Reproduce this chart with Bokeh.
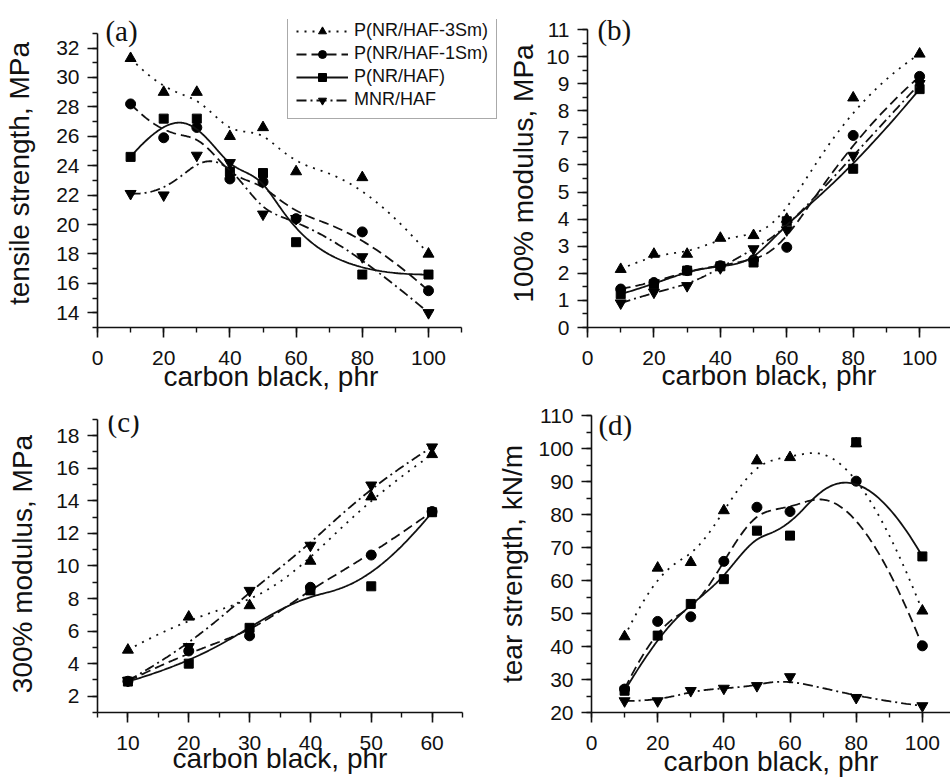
import numpy as np
from bokeh.plotting import figure
from bokeh.models import Range1d, SingleIntervalTicker, Legend, LegendItem, Label, Title
from bokeh.layouts import column, row
from bokeh.embed import file_html
from bokeh.resources import INLINE

# ---------------- data ----------------
cb_full = [10, 20, 30, 40, 50, 60, 80, 100]
cb_short = [10, 20, 30, 40, 50, 60]

series_names = ["P(NR/HAF-3Sm)", "P(NR/HAF-1Sm)", "P(NR/HAF)", "MNR/HAF"]

tensile_3sm = [31.3, 29.0, 29.0, 26.0, 26.6, 23.6, 23.2, 18.0]
tensile_1sm = [28.2, 25.9, 26.6, 23.1, 22.9, 20.4, 19.5, 15.5]
tensile_haf = [24.6, 27.2, 27.2, 23.6, 23.5, 18.8, 16.6, 16.6]
tensile_mnr = [22.1, 22.0, 24.7, 24.2, 20.7, 20.4, 17.8, 14.0]

mod100_3sm = [2.15, 2.71, 2.71, 3.30, 3.40, 4.0, 8.48, 10.1]
mod100_1sm = [1.42, 1.66, 2.1, 2.28, 2.5, 2.96, 7.09, 9.27]
mod100_haf = [1.23, 1.6, 2.1, 2.26, 2.4, 3.92, 5.86, 8.8]
mod100_mnr = [0.9, 1.3, 1.54, 2.2, 2.9, 3.6, 6.35, 9.0]

mod300_3sm = [4.84, 6.87, 7.57, 10.3, 14.25, 16.85]
mod300_1sm = [2.92, 4.78, 5.71, 8.69, 10.67, 13.34]
mod300_haf = [2.9, 4.0, 6.2, 8.5, 8.75, 13.3]
mod300_mnr = [2.96, 5.04, 8.49, 11.26, 14.96, 17.3]

tear_3sm = [43.0, 63.8, 65.5, 81.2, 96.3, 97.3, 101.5, 50.8]
tear_1sm = [27.1, 47.6, 49.0, 65.8, 82.2, 80.9, 90.1, 40.2]
tear_haf = [26.6, 43.3, 52.9, 60.4, 75.1, 73.6, 101.9, 67.3]
tear_mnr = [23.5, 23.5, 26.6, 27.3, 28.1, 30.8, 24.5, 22.0]

# ---------------- styles ----------------
FONT = "Liberation Sans"
SERIF = "Liberation Serif"
dashes = ["2 6", "10 5", "solid", "10 4 2 4"]
markers = ["triangle", "circle", "square", "inverted_triangle"]
msizes = [11, 10, 9, 11]
INK = "#111111"


def bspline(xs, ys, n=300, k=3):
    """Clamped uniform cubic B-spline drawn with the data points as control points."""
    P = np.column_stack([np.asarray(xs, float), np.asarray(ys, float)])
    m = len(P)
    knots = np.concatenate([[0.0] * k, np.arange(m - k + 1, dtype=float), [float(m - k)] * k])
    ts = np.linspace(0, m - k, n)
    out = []
    for t in ts:
        l = k
        while l < m - 1 and not (knots[l] <= t < knots[l + 1]):
            l += 1
        d = [P[j + l - k].copy() for j in range(k + 1)]
        for r in range(1, k + 1):
            for j in range(k, r - 1, -1):
                den = knots[j + 1 + l - r] - knots[j + l - k]
                a = 0.0 if den == 0 else (t - knots[j + l - k]) / den
                d[j] = (1 - a) * d[j - 1] + a * d[j]
        out.append(d[k])
    out = np.array(out)
    return out[:, 0], out[:, 1]


def make_fig(width, height, xr, yr, mb, xint, yint, ylabel, xbounds, ybounds):
    p = figure(width=width, height=height, x_range=Range1d(*xr), y_range=Range1d(*yr),
               output_backend="svg", toolbar_location=None, title=None,
               min_border_left=mb[0], min_border_right=mb[1],
               min_border_top=mb[2], min_border_bottom=mb[3])
    p.outline_line_color = None
    p.grid.visible = False
    p.background_fill_color = "white"
    p.border_fill_color = "white"
    p.xaxis.ticker = SingleIntervalTicker(interval=xint, num_minor_ticks=2)
    p.yaxis.ticker = SingleIntervalTicker(interval=yint, num_minor_ticks=2)
    p.xaxis.bounds = xbounds
    p.yaxis.bounds = ybounds
    for ax in (p.xaxis[0], p.yaxis[0]):
        ax.axis_line_width = 1.6
        ax.axis_line_color = INK
        ax.major_tick_line_color = INK
        ax.minor_tick_line_color = INK
        ax.major_tick_line_width = 1.6
        ax.minor_tick_line_width = 1.4
        ax.major_tick_out = 10
        ax.major_tick_in = 0
        ax.minor_tick_out = 5
        ax.minor_tick_in = 0
        ax.major_label_text_font = FONT
        ax.major_label_text_font_size = "21px"
        ax.major_label_text_color = INK
        ax.axis_label_text_font = FONT
        ax.axis_label_text_font_size = "28px"
        ax.axis_label_text_font_style = "normal"
        ax.axis_label_text_color = INK
    p.xaxis.major_label_standoff = 13
    p.yaxis.major_label_standoff = 8
    p.xaxis.axis_label = "carbon black, phr"
    p.yaxis.axis_label = ylabel
    return p


def add_series(p, xs, ys_list):
    rends = []
    for i, ys in enumerate(ys_list):
        bx, by = bspline(xs, ys)
        lr = p.line(bx, by, line_color=INK, line_width=1.8, line_dash=dashes[i])
        sr = p.scatter(xs, ys, marker=markers[i], size=msizes[i], fill_color="black",
                       line_color="black")
        rends.append((lr, sr))
    return rends


def panel_label(p, txt, x, y):
    p.add_layout(Label(x=x, y=y, text=txt, text_font=SERIF, text_font_size="29px",
                       text_color=INK, text_baseline="alphabetic", text_align="left"))


# (a) tensile strength  (frame widened to hold the legend; axes limited by bounds)
pa = make_fig(500, 396, (0, 121.75), (13, 33.94), (97, 0, 19, 66), 20, 2,
              "tensile strength, MPa", (0, 110), (13, 33))
pa.yaxis.axis_label_standoff = 18
pa.xaxis.axis_label = None
pa.add_layout(Title(text="carbon black, phr", align="left", offset=66, standoff=-14,
                    vertical_align="top", text_font=FONT, text_font_size="28px",
                    text_font_style="normal", text_color=INK), "below")
ra = add_series(pa, cb_full, [tensile_3sm, tensile_1sm, tensile_haf, tensile_mnr])
panel_label(pa, "(a)", 2.4, 33.13)
items = [LegendItem(label=series_names[i], renderers=[ra[i][0], ra[i][1]]) for i in range(4)]
leg = Legend(items=items, location=(190, 208), margin=0, padding=8, spacing=2,
             glyph_height=20, glyph_width=52, label_height=20, label_standoff=6,
             label_text_font=FONT, label_text_font_size="18px", label_text_color=INK,
             border_line_color="#555555", border_line_width=1.5,
             background_fill_color="white", background_fill_alpha=1.0)
pa.add_layout(leg, "center")

# (b) 100% modulus
pb = make_fig(450, 396, (0, 109.3), (0, 11.37), (87, 0, 19, 69), 20, 1,
              "100% modulus, MPa", (0, 110), (0, 11))
pb.yaxis.axis_label_standoff = 4
pb.xaxis.axis_label_standoff = -8
add_series(pb, cb_full, [mod100_3sm, mod100_1sm, mod100_haf, mod100_mnr])
panel_label(pb, "(b)", 3.0, 10.99)

# (c) 300% modulus
pc = make_fig(490, 386, (5, 65), (1, 19.24), (97, 28, 19, 67), 10, 2,
              "300% modulus, MPa", (5, 65), (1, 19))
pc.yaxis.axis_label_standoff = 15
pc.xaxis.axis_label_standoff = -10
add_series(pc, cb_short, [mod300_3sm, mod300_1sm, mod300_haf, mod300_mnr])
panel_label(pc, "(c)", 6.65, 18.82)

# (d) tear strength
pd_ = make_fig(460, 386, (0, 108.5), (20, 110.0), (101, 0, 19, 70), 20, 10,
               "tear strength, kN/m", (0, 110), (20, 110))
pd_.yaxis.axis_label_standoff = 7
pd_.xaxis.axis_label_standoff = -7
add_series(pd_, cb_full, [tear_3sm, tear_1sm, tear_haf, tear_mnr])
panel_label(pd_, "(d)", 2.1, 107.1)

layout = column(row(pa, pb), row(pc, pd_))
open("out.html", "w").write(file_html(layout, INLINE))
